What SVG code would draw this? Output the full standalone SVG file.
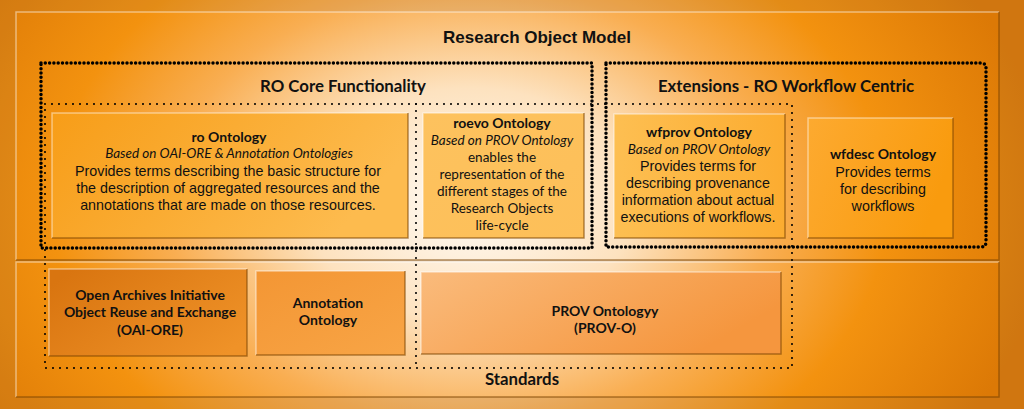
<svg xmlns="http://www.w3.org/2000/svg" width="1024" height="409" viewBox="0 0 1024 409">
  <defs>
    <radialGradient id="bg" gradientUnits="userSpaceOnUse" cx="470" cy="205" r="580" gradientTransform="translate(470 205) scale(1 0.72) translate(-470 -205)">
      <stop offset="0" stop-color="#fffbf5"/>
      <stop offset="0.28" stop-color="#fde2bf"/>
      <stop offset="0.52" stop-color="#f9ae52"/>
      <stop offset="0.72" stop-color="#f3920f"/>
      <stop offset="1" stop-color="#dc7906"/>
    </radialGradient>
    <linearGradient id="gRo" x1="0" y1="0" x2="1" y2="0.3">
      <stop offset="0" stop-color="#f79d18"/>
      <stop offset="1" stop-color="#fdbb4e"/>
    </linearGradient>
    <linearGradient id="gRoevo" x1="0" y1="0" x2="1" y2="1">
      <stop offset="0" stop-color="#fdc25e"/>
      <stop offset="1" stop-color="#fdbf58"/>
    </linearGradient>
    <linearGradient id="gWfprov" x1="0" y1="0" x2="1" y2="0">
      <stop offset="0" stop-color="#fdbf52"/>
      <stop offset="1" stop-color="#fcac30"/>
    </linearGradient>
    <linearGradient id="gWfdesc" x1="0" y1="0" x2="1" y2="0.3">
      <stop offset="0" stop-color="#fdaa30"/>
      <stop offset="1" stop-color="#f99b0e"/>
    </linearGradient>
    <linearGradient id="gOai" x1="0" y1="0.2" x2="1" y2="0.8">
      <stop offset="0" stop-color="#d97510"/>
      <stop offset="1" stop-color="#ef9228"/>
    </linearGradient>
    <linearGradient id="gAnno" x1="0" y1="0" x2="1" y2="1">
      <stop offset="0" stop-color="#f39634"/>
      <stop offset="1" stop-color="#f8a546"/>
    </linearGradient>
    <linearGradient id="gProv" x1="0" y1="0" x2="1" y2="0.4">
      <stop offset="0" stop-color="#fabb7c"/>
      <stop offset="1" stop-color="#f5963e"/>
    </linearGradient>
    <style>
      .title { font-family: "Liberation Sans", Arial, sans-serif; font-weight: bold; fill: #111; text-anchor: middle; }
      .head { font-family: Lato, "Open Sans", sans-serif; font-weight: bold; fill: #111; text-anchor: middle; }
      .name { font-family: Lato, "Open Sans", sans-serif; font-weight: bold; font-size: 14px; fill: #111; text-anchor: middle; }
      .based { font-family: Lato, "Open Sans", sans-serif; font-style: italic; font-size: 13.5px; fill: #111; text-anchor: middle; }
      .body { font-family: "Liberation Sans", Arial, sans-serif; font-size: 14.3px; fill: #111; text-anchor: middle; }
      .body2 { font-family: Lato, "Open Sans", sans-serif; font-size: 13.5px; fill: #111; text-anchor: middle; }
      .std { font-family: Lato, "Open Sans", sans-serif; font-weight: bold; font-size: 14px; fill: #111; text-anchor: middle; }
      .hi { fill: none; stroke: #ffffff; stroke-opacity: 0.45; stroke-width: 1.5; }
      .lo { fill: none; stroke: #7a4500; stroke-opacity: 0.6; stroke-width: 1.5; }
      .thick { fill: none; stroke: #000; stroke-width: 3.5; stroke-linecap: round; stroke-dasharray: 0 4.3; }
      .thin { fill: none; stroke: #000; stroke-width: 2.1; stroke-linecap: round; stroke-dasharray: 0 7; }
    </style>
  </defs>

  <!-- backdrop -->
  <rect x="0" y="0" width="1024" height="409" fill="url(#bg)"/>
  <rect x="0" y="0" width="1024" height="409" fill="#8a6a50" fill-opacity="0.14"/>

  <!-- model panel and standards panel -->
  <g id="panels">
    <rect x="16" y="12" width="983" height="248" fill="url(#bg)"/>
    <polyline class="hi" points="16,260 16,12 999,12"/>
    <polyline class="lo" points="999,12 999,260 16,260"/>
    <rect x="16" y="262" width="983" height="135" fill="url(#bg)"/>
    <polyline class="hi" points="16,397 16,262 999,262"/>
    <polyline class="lo" points="999,262 999,397 16,397"/>
  </g>

  <!-- ontology boxes -->
  <g id="ro">
    <rect x="52" y="113" width="356" height="125" fill="url(#gRo)"/>
    <polyline class="hi" points="52,238 52,113 408,113"/>
    <polyline class="lo" points="408,113 408,238 52,238"/>
    <text class="name" x="229" y="142">ro Ontology</text>
    <text class="based" x="229" y="158">Based on OAI-ORE &amp; Annotation Ontologies</text>
    <text class="body" x="228" y="176">Provides terms describing the basic structure for</text>
    <text class="body" x="228" y="193">the description of aggregated resources and the</text>
    <text class="body" x="228" y="210">annotations that are made on those resources.</text>
  </g>

  <g id="roevo">
    <rect x="423" y="113" width="161" height="125" fill="url(#gRoevo)"/>
    <polyline class="hi" points="423,238 423,113 584,113"/>
    <polyline class="lo" points="584,113 584,238 423,238"/>
    <text class="name" x="502" y="128">roevo Ontology</text>
    <text class="based" x="502" y="145">Based on PROV Ontology</text>
    <text class="body2" x="502" y="162">enables the</text>
    <text class="body2" x="502" y="179">representation of the</text>
    <text class="body2" x="502" y="196">different stages of the</text>
    <text class="body2" x="502" y="213">Research Objects</text>
    <text class="body2" x="502" y="230">life-cycle</text>
  </g>

  <g id="wfprov">
    <rect x="614" y="114" width="171" height="124" fill="url(#gWfprov)"/>
    <polyline class="hi" points="614,238 614,114 785,114"/>
    <polyline class="lo" points="785,114 785,238 614,238"/>
    <text class="name" x="699" y="137">wfprov Ontology</text>
    <text class="based" x="699" y="154">Based on PROV Ontology</text>
    <text class="body" x="698" y="171">Provides terms for</text>
    <text class="body" x="698" y="188">describing provenance</text>
    <text class="body" x="698" y="205">information about actual</text>
    <text class="body" x="698" y="222">executions of workflows.</text>
  </g>

  <g id="wfdesc">
    <rect x="808" y="118" width="145" height="120" fill="url(#gWfdesc)"/>
    <polyline class="hi" points="808,238 808,118 953,118"/>
    <polyline class="lo" points="953,118 953,238 808,238"/>
    <text class="name" x="883" y="159">wfdesc Ontology</text>
    <text class="body" x="883" y="177">Provides terms</text>
    <text class="body" x="883" y="194">for describing</text>
    <text class="body" x="883" y="211">workflows</text>
  </g>

  <g id="oai-ore">
    <rect x="49" y="269" width="198" height="87" fill="url(#gOai)"/>
    <polyline class="hi" points="49,356 49,269 247,269"/>
    <polyline class="lo" points="247,269 247,356 49,356"/>
    <text class="std" x="150" y="300">Open Archives Initiative</text>
    <text class="std" x="150" y="317">Object Reuse and Exchange</text>
    <text class="std" x="150" y="335">(OAI-ORE)</text>
  </g>

  <g id="annotation">
    <rect x="256" y="271" width="149" height="84" fill="url(#gAnno)"/>
    <polyline class="hi" points="256,355 256,271 405,271"/>
    <polyline class="lo" points="405,271 405,355 256,355"/>
    <text class="std" x="328" y="308">Annotation</text>
    <text class="std" x="328" y="325">Ontology</text>
  </g>

  <g id="prov-o">
    <rect x="421" y="272" width="360" height="82" fill="url(#gProv)"/>
    <polyline class="hi" points="421,354 421,272 781,272"/>
    <polyline class="lo" points="781,272 781,354 421,354"/>
    <text class="std" x="605" y="316">PROV Ontologyy</text>
    <text class="std" x="605" y="333">(PROV-O)</text>
  </g>

  <!-- dotted groupings -->
  <g id="connectors">
    <rect class="thin" x="45" y="104" width="747" height="264"/>
    <line class="thin" x1="416" y1="104" x2="416" y2="368"/>
    <rect class="thick" x="41" y="63" width="551" height="185"/>
    <path class="thick" d="M606,63 H981 Q986,63 986,68 V242 Q986,247 981,247 H606 Z"/>
  </g>

  <!-- headings -->
  <text class="title" x="537" y="43" font-size="17">Research Object Model</text>
  <text class="head" x="343" y="92" font-size="16.8">RO Core Functionality</text>
  <text class="head" x="786" y="92" font-size="16.8">Extensions - RO Workflow Centric</text>
  <text class="head" x="522" y="385" font-size="16.8">Standards</text>
</svg>
